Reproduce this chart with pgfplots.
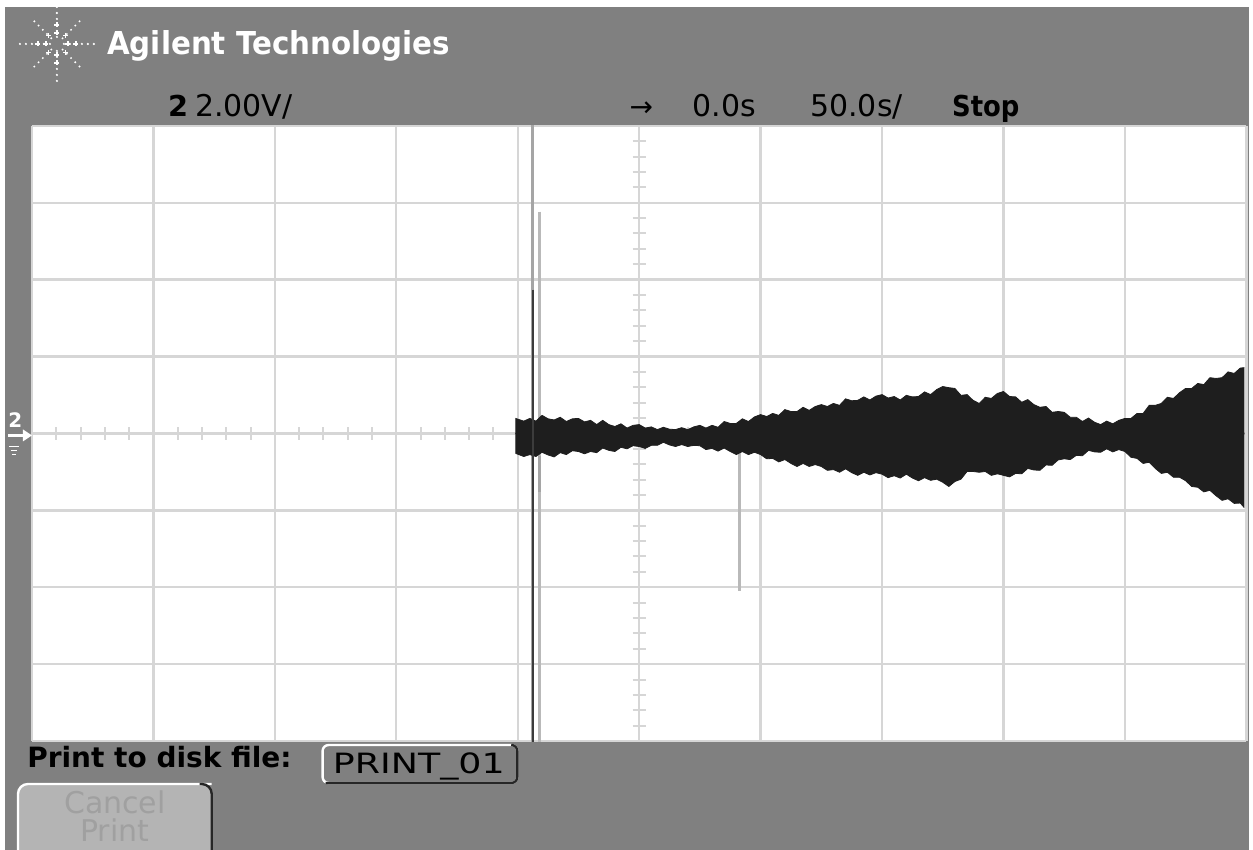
\documentclass[border=0pt]{standalone}
\usepackage{pgfplots}
\pgfplotsset{compat=1.18}
\usepackage{pgfplotstable}
\usepackage{graphicx}
\usepackage{fontspec}
\setmainfont{DejaVu Sans}

\definecolor{scopegray}{RGB}{128,128,128}
\definecolor{gridgray}{RGB}{214,214,214}
\definecolor{trace}{RGB}{30,30,30}
\definecolor{spikeA}{RGB}{165,165,165}
\definecolor{spikeB}{RGB}{185,185,185}
\definecolor{spikeDark}{RGB}{60,60,60}
\definecolor{btnfill}{RGB}{180,180,180}
\definecolor{btntext}{RGB}{160,160,160}

% envelope of channel 2 (time in s, volts)
\pgfplotstableread{
t top bot
-50.8 0.39 -0.52
-47.5 0.32 -0.60
-45.0 0.39 -0.55
-42.5 0.32 -0.60
-40.0 0.47 -0.49
-37.5 0.38 -0.56
-35.0 0.35 -0.61
-32.5 0.42 -0.50
-30.0 0.31 -0.55
-27.5 0.38 -0.45
-25.0 0.39 -0.47
-22.5 0.30 -0.53
-20.0 0.34 -0.47
-17.5 0.23 -0.50
-15.0 0.34 -0.38
-12.5 0.23 -0.44
-10.0 0.18 -0.47
-7.5 0.25 -0.36
-5.0 0.14 -0.40
-2.5 0.21 -0.32
0.0 0.23 -0.34
2.5 0.14 -0.39
5.0 0.17 -0.31
7.5 0.10 -0.31
10.0 0.16 -0.23
12.5 0.11 -0.30
15.0 0.10 -0.34
17.5 0.15 -0.29
20.0 0.10 -0.34
22.5 0.17 -0.31
25.0 0.21 -0.32
27.5 0.14 -0.42
30.0 0.21 -0.39
32.5 0.16 -0.46
35.0 0.31 -0.38
37.5 0.26 -0.47
40.0 0.26 -0.55
42.5 0.38 -0.47
45.0 0.31 -0.55
47.5 0.43 -0.49
50.0 0.49 -0.55
52.5 0.44 -0.66
55.0 0.52 -0.65
57.5 0.47 -0.74
60.0 0.62 -0.68
62.5 0.57 -0.78
65.0 0.57 -0.86
67.5 0.68 -0.78
70.0 0.60 -0.86
72.5 0.70 -0.81
75.0 0.75 -0.86
77.5 0.70 -0.96
80.0 0.78 -0.94
82.5 0.73 -1.01
85.0 0.90 -0.92
87.5 0.85 -1.02
90.0 0.86 -1.09
92.5 0.95 -1.01
95.0 0.87 -1.08
97.5 0.97 -1.02
100.0 1.01 -1.06
102.5 0.92 -1.15
105.0 0.96 -1.10
107.5 0.87 -1.16
110.0 0.99 -1.06
112.5 0.95 -1.16
115.0 0.96 -1.23
117.5 1.08 -1.15
120.0 1.01 -1.22
122.5 1.14 -1.19
125.0 1.22 -1.27
127.5 1.19 -1.38
130.0 1.17 -1.25
132.5 0.99 -1.19
135.0 1.01 -0.99
137.5 0.86 -0.99
140.0 0.78 -1.01
142.5 0.94 -0.99
145.0 0.91 -1.09
147.5 1.04 -1.05
150.0 1.09 -1.09
152.5 0.96 -1.13
155.0 0.95 -1.04
157.5 0.81 -1.05
160.0 0.88 -0.91
162.5 0.75 -0.95
165.0 0.68 -0.96
167.5 0.70 -0.82
170.0 0.55 -0.83
172.5 0.57 -0.69
175.0 0.55 -0.66
177.5 0.42 -0.68
180.0 0.42 -0.57
182.5 0.31 -0.58
185.0 0.40 -0.44
187.5 0.29 -0.48
190.0 0.23 -0.49
192.5 0.32 -0.40
195.0 0.25 -0.48
197.5 0.34 -0.42
200.0 0.39 -0.47
202.5 0.39 -0.62
205.0 0.52 -0.65
207.5 0.52 -0.78
210.0 0.73 -0.75
212.5 0.73 -0.91
215.0 0.78 -1.04
217.5 0.94 -1.01
220.0 0.91 -1.14
222.5 1.06 -1.14
225.0 1.17 -1.23
227.5 1.17 -1.38
230.0 1.30 -1.40
232.5 1.27 -1.52
235.0 1.45 -1.48
237.5 1.43 -1.62
240.0 1.45 -1.74
242.5 1.60 -1.70
245.0 1.56 -1.82
247.5 1.70 -1.81
249.0 1.71 -1.92
}\envelope

\begin{document}
\begin{tikzpicture}
\begin{scope}[x=0.5pt,y=-0.5pt]
\useasboundingbox (0,0) rectangle (1253,851);
\fill[white] (0,0) rectangle (1253,851);
\fill[scopegray] (5,7) rectangle (1251,851);
\fill[white] (32,126) rectangle (1248,742);
\end{scope}

\begin{axis}[
  at={(16pt,-371pt)}, anchor=south west,
  width=608pt, height=308pt, scale only axis,
  xmin=-250, xmax=250, ymin=-8, ymax=8,
  axis line style={draw=none},
  xtick={-250,-200,...,250}, ytick={-8,-6,...,8},
  xticklabels={}, yticklabels={},
  major tick length=0pt,
  xmajorgrids, ymajorgrids,
  major grid style={gridgray, line width=1.2pt},
  clip=true,
]
% minor division marks on the centre lines
\pgfplotsinvokeforeach{-240,-230,...,240}{
  \draw[gridgray, line width=1pt] (axis cs:#1,-0.16) -- (axis cs:#1,0.16);
}
\pgfplotsinvokeforeach{-7.6,-7.2,...,7.6}{
  \draw[gridgray, line width=1pt] (axis cs:-2.7,#1) -- (axis cs:2.7,#1);
}
% glitch spikes
\addplot[spikeA, line width=1.6pt] coordinates {(-44.0,9) (-44.0,-9)};
\addplot[spikeB, line width=1.5pt] coordinates {(-41.0,5.77) (-41.0,-9)};
\addplot[spikeB, line width=1.5pt] coordinates {(41.3,-0.5) (41.3,-4.10)};
% trace envelope (upper and lower halves, filled to the 0 V line)
\addplot[fill=trace, draw=trace, line width=0.4pt] table[x=t, y=top] {\envelope} \closedcycle;
\addplot[fill=trace, draw=trace, line width=0.4pt] table[x=t, y=bot] {\envelope} \closedcycle;
\addplot[spikeDark, line width=1pt] coordinates {(-43.6,3.74) (-43.6,-9)};
\addplot[spikeA, line width=1.2pt] coordinates {(-41.0,-0.6) (-41.0,-1.53)};
\end{axis}

\begin{scope}[x=0.5pt,y=-0.5pt]
% logo
\foreach \a in {0,90,180,270}{
  \foreach \r in {7,13,19,25,31,37}{
    \fill[white] ([shift={(\a:\r)}]57,44) circle (0.6pt);
  }
  \draw[white, line width=0.6pt] ([shift={(\a:11)}]57,44) ++(-2.5,0) -- ++(5,0);
  \draw[white, line width=0.6pt] ([shift={(\a:11)}]57,44) ++(0,-2.5) -- ++(0,5);
  \draw[white, line width=0.6pt] ([shift={(\a:19)}]57,44) ++(-2.5,0) -- ++(5,0);
  \draw[white, line width=0.6pt] ([shift={(\a:19)}]57,44) ++(0,-2.5) -- ++(0,5);
}
\foreach \a in {45,135,225,315}{
  \foreach \r in {8,14,20,26,32}{
    \fill[white] ([shift={(\a:\r)}]57,44) circle (0.55pt);
  }
  \draw[white, line width=0.6pt] ([shift={(\a:12)}]57,44) ++(-2.5,0) -- ++(5,0);
  \draw[white, line width=0.6pt] ([shift={(\a:12)}]57,44) ++(0,-2.5) -- ++(0,5);
}
\node[anchor=base west, inner sep=0, text=white] at (107,55)
  {\scalebox{0.93}[1]{\fontsize{15.8}{18}\selectfont\bfseries Agilent Technologies}};

% status line
\node[anchor=base west, inner sep=0] at (168,117) {\fontsize{14.4}{16}\selectfont\bfseries 2};
\node[anchor=base west, inner sep=0] at (195,117) {\fontsize{15}{17}\selectfont 2.00V/};
\node[anchor=base west, inner sep=0] at (630,117) {\fontsize{14}{16}\selectfont →};
\node[anchor=base west, inner sep=0] at (693,117) {\fontsize{15}{17}\selectfont 0.0s};
\node[anchor=base west, inner sep=0] at (811,117) {\fontsize{15}{17}\selectfont 50.0s/};
\node[anchor=base west, inner sep=0] at (953,117) {\scalebox{0.9}[1]{\fontsize{14.4}{16}\selectfont\bfseries Stop}};

% channel marker
\node[anchor=base west, inner sep=0, text=white] at (8,428) {\fontsize{10}{12}\selectfont\bfseries 2};
\draw[white, line width=1.2pt] (8,436) -- (26,436);
\fill[white] (23,430) -- (32,436) -- (23,442) -- cycle;
\draw[white, line width=0.8pt] (9,447) -- (19,447);
\draw[white, line width=0.8pt] (11,451) -- (17,451);
\draw[white, line width=0.8pt] (12,455) -- (16,455);

% bottom soft keys
\node[anchor=base west, inner sep=0] at (27,769) {\fontsize{14}{16}\selectfont\bfseries Print to disk file:};
\draw[white, line width=1.2pt, rounded corners=3pt] (323,746) rectangle (518,784);
\draw[black!85, line width=1.2pt, rounded corners=3pt] (514,746) -- (518,746) -- (518,784) -- (326,784);
\node[anchor=base west, inner sep=0] at (333,775) {\scalebox{1.3}[1]{\fontsize{14}{16}\selectfont PRINT\_01}};

\begin{scope}
\clip (0,0) rectangle (1253,851);
\fill[btnfill, rounded corners=5pt] (18,785) rectangle (212,880);
\draw[white, line width=1.2pt, rounded corners=5pt] (18,880) -- (18,785) -- (212,785);
\draw[black!85, line width=1.2pt, rounded corners=5pt] (200,785) -- (212,785) -- (212,880);
\end{scope}
\node[anchor=base, inner sep=0, text=btntext] at (115,815) {\fontsize{15}{17}\selectfont Cancel};
\node[anchor=base, inner sep=0, text=btntext] at (115,843) {\fontsize{15}{17}\selectfont Print};
\end{scope}
\end{tikzpicture}
\end{document}
